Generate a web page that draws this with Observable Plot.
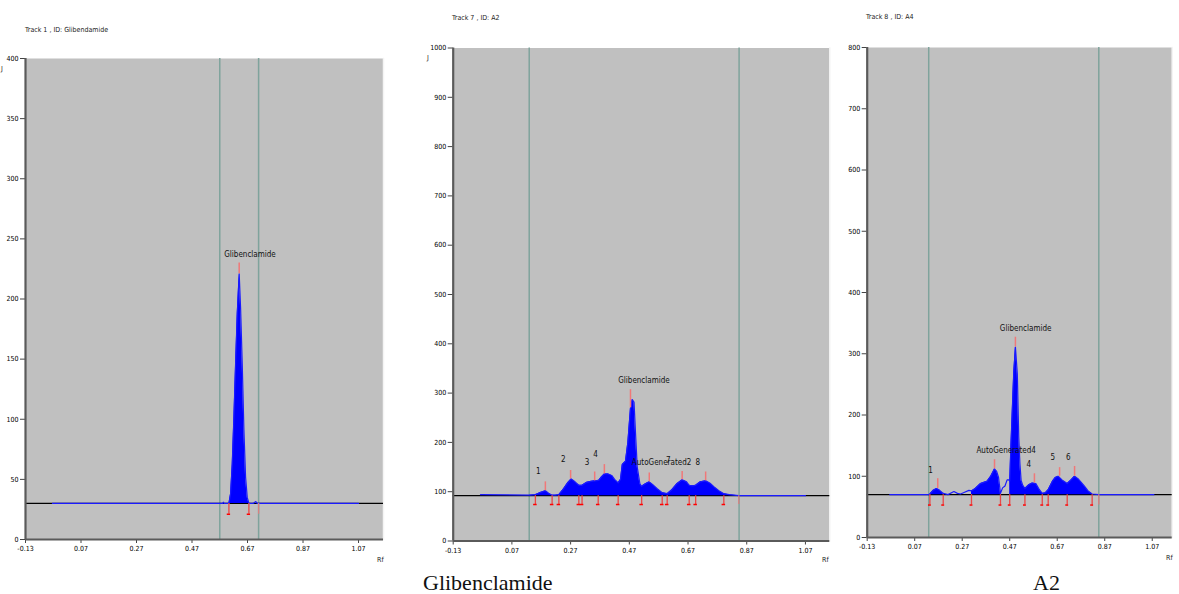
<!DOCTYPE html>
<html><head><meta charset="utf-8">
<script src="https://cdn.jsdelivr.net/npm/d3@7"></script>
<script src="https://cdn.jsdelivr.net/npm/@observablehq/plot@0.6"></script>
<style>
body{margin:0;background:#fff;}
#wrap{position:relative;width:1179px;height:594px;overflow:hidden;font-family:"DejaVu Sans Condensed","Liberation Sans Narrow","Arial Narrow","Liberation Sans",sans-serif;font-stretch:condensed;}
.panel{position:absolute;top:0;}
.txt{position:absolute;font-size:7px;color:#222;white-space:nowrap;line-height:1;}
.cap{position:absolute;font-family:"Liberation Serif","Times New Roman",serif;font-size:22px;color:#111;line-height:22px;white-space:nowrap;font-stretch:normal;}
</style></head><body><div id="wrap"></div>
<script>
// ---- shared axis ticks ----
const xTicks = [-0.13, 0.07, 0.27, 0.47, 0.67, 0.87, 1.07];
const xTickLabels = ["-0.13", "0.07", "0.27", "0.47", "0.67", "0.87", "1.07"];

// ---- Panel 1: Track 1, ID: Glibenclamide ----
const p1Title = "Track 1 , ID: Glibendamide";
const p1YTicks = [0, 50, 100, 150, 200, 250, 300, 350, 400];
const p1Base = 30;
const p1Foot = 21;
const p1TrackLines = [0.57, 0.71];
const p1Rf = [-0.033, 0.58, 0.583, 0.586, 0.603, 0.609, 0.615, 0.621, 0.627, 0.633, 0.640, 0.645, 0.651, 0.657, 0.663, 0.669, 0.675, 0.69, 0.70, 0.705, 0.71, 1.07];
const p1Au = [30, 30, 31, 30, 30, 38, 63, 102, 146, 188, 221, 193, 146, 91, 52, 35, 30, 30, 31.5, 30, 30, 30];
const p1Filled = [[0.603, 0.675]];
const p1PeakRf = [0.640];
const p1PeakTop = [221];
const p1PeakMark = [230];
const p1Bounds = [0.603, 0.675];
const p1End = [0.71];
const p1LabelText = ["Glibenclamide"];
const p1LabelRf = [0.679];
const p1LabelAu = [237];

// ---- Panel 2: Track 7, ID: A2 ----
const p2Title = "Track 7 , ID: A2";
const p2YTicks = [0, 100, 200, 300, 400, 500, 600, 700, 800, 900, 1000];
const p2Base = 92;
const p2Foot = 74;
const p2TrackLines = [0.129, 0.844];
const p2Rf = [-0.037, 0.13, 0.15, 0.165, 0.184, 0.195, 0.207, 0.218, 0.23, 0.245, 0.26, 0.272, 0.285, 0.298, 0.309, 0.325, 0.34, 0.352, 0.366, 0.375, 0.385, 0.398, 0.41, 0.42, 0.432, 0.44, 0.446, 0.457, 0.465, 0.474, 0.48, 0.486, 0.491, 0.497, 0.506, 0.512, 0.525, 0.538, 0.55, 0.565, 0.582, 0.599, 0.615, 0.632, 0.65, 0.665, 0.674, 0.685, 0.696, 0.712, 0.73, 0.745, 0.758, 0.775, 0.792, 0.81, 0.826, 0.843, 1.07];
const p2Au = [94, 93, 94, 98, 102, 97, 93, 93, 94, 105, 118, 126, 120, 113, 113, 119, 121, 122, 123, 130, 136, 136, 133, 125, 118, 125, 155, 162, 200, 270, 287, 282, 220, 150, 116, 111, 116, 120, 114, 106, 98, 96, 104, 116, 124, 120, 113, 112, 113, 120, 122, 117, 110, 102, 96, 94, 93, 92, 92];
const p2Filled = [[0.13, 0.843]];
const p2PeakRf = [0.184, 0.270, 0.352, 0.385, 0.474, 0.538, 0.650, 0.730];
const p2PeakTop = [102, 126, 122, 136, 270, 120, 124, 122];
const p2PeakMark = [120, 143, 140, 155, 307, 138, 141, 140];
const p2Bounds = [0.150, 0.207, 0.230, 0.298, 0.309, 0.364, 0.432, 0.512, 0.582, 0.599, 0.674, 0.696, 0.792];
const p2End = [0.843];
const p2LabelText = ["1", "2", "3", "4", "Glibenclamide", "AutoGenerated2", "7", "8"];
const p2LabelRf = [0.16, 0.245, 0.326, 0.355, 0.52, 0.58, 0.603, 0.703];
const p2LabelAu = [142, 165, 160, 176, 326, 159, 163, 160];

// ---- Panel 3: Track 8, ID: A4 ----
const p3Title = "Track 8 , ID: A4";
const p3YTicks = [0, 100, 200, 300, 400, 500, 600, 700, 800];
const p3Base = 70;
const p3Foot = 53;
const p3TrackLines = [0.129, 0.845];
const p3Rf = [-0.035, 0.129, 0.134, 0.148, 0.162, 0.175, 0.19, 0.21, 0.235, 0.25, 0.263, 0.28, 0.298, 0.309, 0.325, 0.347, 0.375, 0.39, 0.406, 0.415, 0.423, 0.431, 0.44, 0.45, 0.459, 0.466, 0.47, 0.475, 0.48, 0.487, 0.494, 0.502, 0.508, 0.513, 0.518, 0.525, 0.534, 0.55, 0.565, 0.58, 0.595, 0.607, 0.62, 0.632, 0.65, 0.662, 0.674, 0.69, 0.712, 0.728, 0.743, 0.76, 0.782, 0.8, 0.817, 0.845, 1.077];
const p3Au = [70, 70, 71, 77, 80, 77, 72, 70, 75, 72, 71, 74, 77, 76, 80, 88, 92, 100, 112, 108, 98, 72, 81, 84, 94, 94, 92, 150, 200, 270, 311, 267, 164, 120, 93, 85, 80, 86, 89, 88, 78, 72, 73, 78, 92, 98, 100, 94, 88, 94, 100, 95, 85, 76, 71, 70, 70];
const p3Filled = [[0.134, 0.19], [0.309, 0.431], [0.47, 0.817]];
const p3PeakRf = [0.167, 0.406, 0.494, 0.574, 0.680, 0.743];
const p3PeakTop = [80, 112, 311, 89, 100, 100];
const p3PeakMark = [96, 127, 327, 104, 114, 116];
const p3Bounds = [0.134, 0.190, 0.309, 0.431, 0.470, 0.534, 0.607, 0.632, 0.712, 0.817];
const p3End = [0.845];
const p3LabelText = ["1", "AutoGenerated4", "Glibenclamide", "4", "5", "6"];
const p3LabelRf = [0.137, 0.455, 0.537, 0.55, 0.651, 0.716];
const p3LabelAu = [110, 142, 342, 120, 130, 131];

const FONT = '"DejaVu Sans Condensed","Liberation Sans Narrow","Arial Narrow","Liberation Sans",sans-serif';

function makePanel(c) {
  const prof = c.rf.map((r, i) => ({rf: r, au: c.au[i]}));
  const segOf = r => c.filled.findIndex(([a, b]) => r >= a - 1e-9 && r <= b + 1e-9);
  const filledPts = prof.map(d => ({...d, seg: segOf(d.rf)})).filter(d => d.seg >= 0);
  const peaks = c.peakRf.map((r, i) => ({rf: r, top: c.peakTop[i], mark: c.peakMark[i]}));
  const labels = c.labelText.map((t, i) => ({t, rf: c.labelRf[i], au: c.labelAu[i]}));
  const xmin = c.xDomain[0];
  return Plot.plot({
    width: c.width, height: c.height,
    marginLeft: c.ml, marginRight: c.mr, marginTop: c.mt, marginBottom: c.mb,
    style: {fontFamily: FONT, fontSize: "7px", fontStretch: "condensed", background: "transparent", overflow: "visible"},
    x: {domain: c.xDomain, label: null},
    y: {domain: c.yDomain, label: null},
    marks: [
      Plot.frame({fill: "#c0c0c0", stroke: "none"}),
      Plot.frame({anchor: "right", stroke: "#f4f4f4", strokeWidth: 1.5}),
      Plot.ruleX(c.trackLines, {stroke: "#7fa39c", strokeWidth: 1.5}),
      Plot.ruleY([c.base], {stroke: "#000", strokeWidth: 1.3}),
      Plot.areaY(filledPts, {x: "rf", y1: () => c.base, y2: "au", z: "seg", fill: "#0000ff", curve: "linear"}),
      Plot.line(prof, {x: "rf", y: "au", stroke: "#1a1aff", strokeWidth: 1.2}),
      Plot.ruleX(peaks, {x: "rf", y1: "top", y2: "mark", stroke: "#f07878", strokeWidth: 1.5}),
      Plot.ruleX(c.bounds, {x: d => d, y1: () => c.base, y2: () => c.foot, stroke: "#e84848", strokeWidth: 1.3}),
      Plot.ruleY(c.bounds, {y: () => c.foot, x1: d => d - 0.006, x2: d => d + 0.006, stroke: "#ff0000", strokeWidth: 1.5}),
      Plot.ruleX(c.end, {x: d => d, y1: () => c.base, y2: () => c.foot, stroke: "#d98080", strokeWidth: 1.3}),
      Plot.text(labels, {x: "rf", y: "au", text: "t", fontSize: 8, fill: "#111"}),
      Plot.axisY({ticks: c.yTicks, tickSize: 5, tickPadding: 2, tickFormat: d => String(d), fontSize: 7, stroke: "#444"}),
      Plot.axisX({ticks: xTicks, tickSize: 4, tickPadding: 3, tickFormat: d => xTickLabels[xTicks.indexOf(d)], fontSize: 7, stroke: "#444"}),
      Plot.ruleX([xmin], {stroke: "#5a5a5a", strokeWidth: 2.2}),
      Plot.ruleY([0], {stroke: "#5a5a5a", strokeWidth: 2})
    ]
  });
}

const wrap = document.getElementById("wrap");
function place(el, left) { el.classList.add("panel"); el.style.left = left + "px"; wrap.appendChild(el); }
function text(str, left, top, cls) { const d = document.createElement("div"); d.className = cls || "txt"; d.textContent = str; d.style.left = left + "px"; d.style.top = top + "px"; wrap.appendChild(d); }

place(makePanel({
  width: 400, height: 580, ml: 25, mr: 17, mt: 58, mb: 41,
  xDomain: [-0.13, 1.16], yDomain: [0, 400], yTicks: p1YTicks,
  rf: p1Rf, au: p1Au, filled: p1Filled, base: p1Base, foot: p1Foot, trackLines: p1TrackLines,
  peakRf: p1PeakRf, peakTop: p1PeakTop, peakMark: p1PeakMark, bounds: p1Bounds, end: p1End,
  labelText: p1LabelText, labelRf: p1LabelRf, labelAu: p1LabelAu
}), 0);

place(makePanel({
  width: 420, height: 580, ml: 32.7, mr: 10.7, mt: 47.5, mb: 39.5,
  xDomain: [-0.13, 1.153], yDomain: [0, 1000], yTicks: p2YTicks,
  rf: p2Rf, au: p2Au, filled: p2Filled, base: p2Base, foot: p2Foot, trackLines: p2TrackLines,
  peakRf: p2PeakRf, peakTop: p2PeakTop, peakMark: p2PeakMark, bounds: p2Bounds, end: p2End,
  labelText: p2LabelText, labelRf: p2LabelRf, labelAu: p2LabelAu
}), 420);

place(makePanel({
  width: 339, height: 580, ml: 26.7, mr: 7.3, mt: 47, mb: 43,
  xDomain: [-0.13, 1.154], yDomain: [0, 800], yTicks: p3YTicks,
  rf: p3Rf, au: p3Au, filled: p3Filled, base: p3Base, foot: p3Foot, trackLines: p3TrackLines,
  peakRf: p3PeakRf, peakTop: p3PeakTop, peakMark: p3PeakMark, bounds: p3Bounds, end: p3End,
  labelText: p3LabelText, labelRf: p3LabelRf, labelAu: p3LabelAu
}), 840);

text(p1Title, 25, 27);
text(p2Title, 452, 15);
text(p3Title, 866, 14);
text("J", 1, 66);
text("J", 427, 55);
text("Rf", 377, 557);
text("Rf", 822, 557);
text("Rf", 1166, 555);
text("Glibenclamide", 423, 572, "cap");
text("A2", 1033, 572, "cap");
</script></body></html>
